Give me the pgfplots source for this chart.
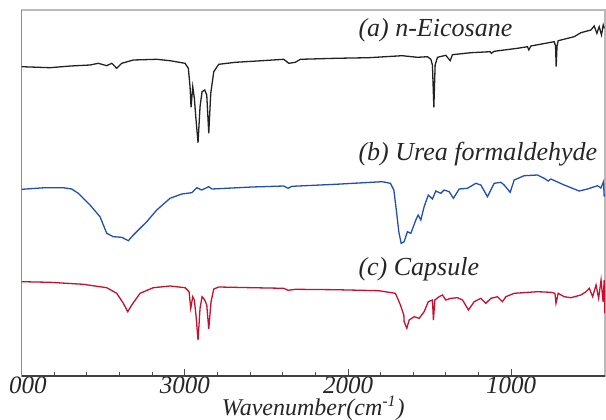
\documentclass[border=0pt]{standalone}
\usepackage{fontspec}
\setmainfont{Liberation Serif}
\usepackage{pgfplots}
\pgfplotsset{compat=1.18}
\definecolor{cblack}{HTML}{222222}
\definecolor{cblue}{HTML}{1F4FB5}
\definecolor{cred}{HTML}{C8102E}
\begin{document}
\begin{tikzpicture}
\begin{axis}[
  name=ax,
  scale only axis,
  width=291.65pt, height=183pt,
  x dir=reverse,
  xmin=425, xmax=4000,
  ymin=0, ymax=366,
  xtick={1000,2000,3000,4000},
  xticklabels={1000,2000,3000,\phantom{4}000},
  minor x tick num=4,
  ytick=\empty,
  xtick pos=bottom,
  tick align=inside,
  major tick length=3.5pt,
  minor tick length=2pt,
  tick style={black!70, line width=0.5pt},
  axis line style={gray!55, line width=0.6pt},
  /pgf/number format/assume math mode=true,
  xticklabel style={font=\fontsize{12.5}{14}\selectfont\itshape, text=black!85, anchor=center, inner sep=0pt, yshift=-4.5pt},
  xlabel={Wavenumber(cm\textsuperscript{-1})},
  xlabel style={font=\fontsize{12}{14}\selectfont\itshape, text=black!85, at={(axis description cs:0.5,0)}, anchor=center, inner sep=0pt, yshift=-16.3pt},
  clip=true,
]
\draw[black!75, line width=0.6pt] (axis cs:4000,366) -- (axis cs:4000,0) -- (axis cs:425,0);
% (a) n-Eicosane
\addplot[cblack, line width=0.65pt] coordinates {
(4000,309.3) (3826.5,308.3) (3700,310) (3581.3,311) (3530.4,312.7) (3478.9,310.3) (3448.2,312.7) (3417.6,307.7) (3386.9,312.7)
(3315.8,316) (3172.3,316.7) (3090.8,315.3) (2998.8,312.7) (2978.6,307.7) (2968.2,289.3) (2962.0,268.7) (2951.6,289.3)
(2941.8,277.7) (2931.4,256) (2919.2,233.3) (2906.9,269.3) (2894.6,284.3) (2878.1,286) (2865.8,281) (2853.5,242.7)
(2841.3,282.7) (2822.8,304.3) (2792.2,311.7) (2690.4,313.7) (2526.7,315.3) (2393.7,316.7) (2363.0,312.7) (2322.6,313.7)
(2291.9,316.7) (2077.3,317.7) (1872.5,318.3) (1668.4,320.3) (1574.6,318.7) (1513.3,319.3) (1492.4,316.7) (1482.6,311)
(1474.0,268.7) (1466.0,311) (1451.9,318.7) (1400.5,320.7) (1374.1,315.3) (1360.0,321.3) (1247.2,323.3) (1128.8,324.3)
(1120.9,322.7) (1104.3,324.7) (961.5,327.7) (900.2,329.3) (891.6,326) (879.3,330) (736.4,334.3) (728,330) (724.2,309.3)
(719,330) (711.9,335.3) (613.9,339.3) (572.7,343.3) (511.4,346) (491.2,350) (474.7,342.7) (460.6,349.3) (446.5,341) (436,351) (429.9,347.7)
};
% (b) Urea formaldehyde
\addplot[cblue, line width=0.65pt] coordinates {
(4000,186.7) (3857.1,188.3) (3744.9,188.3) (3693.5,187) (3653.0,182.7) (3581.3,171) (3520.0,159.3) (3478.9,142.7)
(3438.4,139.3) (3386.9,138.7) (3346.4,135.3) (3315.8,141) (3233.6,154.3) (3172.3,166) (3090.8,177.7) (3019.0,182)
(2957.7,183.3) (2927.1,188.3) (2896.4,186) (2853.5,189.3) (2833.3,187) (2588.0,189) (2393.7,190) (2367.3,187.7)
(2342.8,189.7) (2077.3,191.7) (1791.0,194.3) (1740.1,192.7) (1719.3,186) (1705.2,167.7) (1688.7,144.3) (1674.5,132.7)
(1656.1,134.3) (1635.9,144.3) (1615.0,142.7) (1584.4,156) (1570.3,161) (1553.8,156) (1533.5,169.3) (1508.0,181)
(1482.6,177) (1461.8,185) (1431.1,182.7) (1410.9,186) (1380.2,184.3) (1353.9,177.7) (1318.9,187) (1268.0,187.7)
(1216.5,192.7) (1185.9,191) (1145.4,179.3) (1104.3,192.7) (1063.3,193.7) (1043.1,191) (1006.3,183.7) (981.7,196)
(920.4,200.3) (838.9,201) (797.8,197.7) (773.3,195) (756.7,197) (675.2,191) (583.2,185) (532.4,187) (471.0,190.3)
(450,188) (440,192) (434.2,194.3) (429.9,179.3)
};
% (c) Capsule
\addplot[cred, line width=0.65pt] coordinates {
(4000,94.3) (3826.5,93.7) (3622.3,91.7) (3478.9,88.3) (3417.6,82.7) (3377.1,72.7) (3350.1,64.3) (3325.6,71)
(3274.7,82.7) (3193.2,88.3) (3090.8,90) (2998.8,88.3) (2974.3,84.3) (2963.9,67.7) (2951.6,79.3) (2941.8,76)
(2931.4,60) (2919.2,36) (2906.9,67.7) (2894.6,79.3) (2878.1,76) (2865.8,71) (2853.5,47) (2839.5,74.3) (2822.8,87)
(2792.2,89) (2588.0,88.3) (2393.7,87.7) (2367.3,85.7) (2322.6,86.7) (2077.3,86.3) (1811.2,85.3) (1709.5,82.7)
(1678.8,71) (1658.0,61) (1656.1,54.3) (1639.6,47.7) (1625.4,56) (1594.8,59.3) (1564.1,57.7) (1533.5,64.3) (1508.0,74.3)
(1482.6,76) (1476.5,56) (1467.9,76) (1441.6,79.3) (1421.3,81) (1400.5,76) (1369.8,77.7) (1329.3,78.3) (1298.2,76)
(1261.9,66) (1226.9,74.3) (1185.9,77.7) (1155.2,72.7) (1124.5,77.7) (1084.1,79.3) (1053.4,74.3) (1032.6,79.3)
(981.7,82.7) (838.9,84.3) (756.7,83.7) (731.7,82.7) (725.3,72.7) (711.9,82.7) (675.2,79.3) (634.4,78.3) (572.7,81)
(541.2,84.3) (521.0,87.7) (500.7,79.3) (479.9,91) (463.9,77.7) (449.2,96) (436.9,74.3) (429.9,96) (426,63)
};
\node[anchor=base west, font=\fontsize{13}{15}\selectfont\itshape, text=black!85, inner sep=0pt] at (axis cs:1938,340) {(a) n-Eicosane};
\node[anchor=base west, font=\fontsize{13}{15}\selectfont\itshape, text=black!85, inner sep=0pt] at (axis cs:1938,216) {(b) Urea formaldehyde};
\node[anchor=base west, font=\fontsize{13}{15}\selectfont\itshape, text=black!85, inner sep=0pt] at (axis cs:1938,101) {(c) Capsule};
\end{axis}
\pgfresetboundingbox
\path[use as bounding box] ([xshift=-10.85pt,yshift=-21.5pt]ax.south west) rectangle ([xshift=0.5pt,yshift=5pt]ax.north east);
\end{tikzpicture}
\end{document}
